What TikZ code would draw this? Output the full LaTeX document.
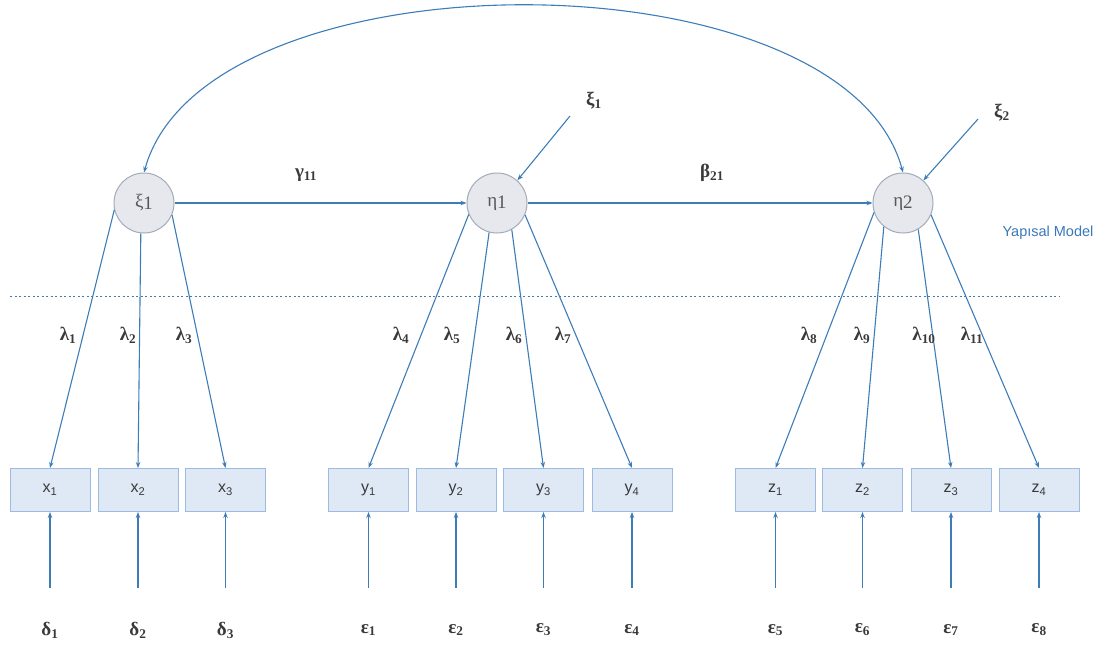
\documentclass[tikz,border=0pt]{standalone}
\usepackage{fontspec}
\setsansfont{Liberation Sans}
\newfontfamily\grk{Liberation Serif}
\usetikzlibrary{arrows.meta}
\definecolor{lineblue}{HTML}{3C7DB8}
\definecolor{boxfill}{HTML}{DFE9F6}
\definecolor{boxdraw}{HTML}{9DBBE0}
\definecolor{circfill}{HTML}{E6E8EE}
\definecolor{circdraw}{HTML}{A3AAB8}
\definecolor{txt}{HTML}{3A3A3A}
\definecolor{modelblue}{HTML}{3A78B8}
\newcommand{\gs}[2]{#1\textsubscript{#2}}
\tikzset{
  lat/.style={circle, draw=circdraw, fill=circfill, line width=1pt, minimum size=60pt, inner sep=0pt, text=txt!85, font=\grk\fontsize{19}{21}\selectfont},
  obs/.style={draw=boxdraw, fill=boxfill, line width=1pt, minimum width=80pt, minimum height=43pt, inner sep=0pt, text=txt, font=\sffamily\fontsize{16}{18}\selectfont},
  arr/.style={draw=lineblue, line width=1.1pt, -{Stealth[length=6pt,width=4.5pt]}},
  lab/.style={text=txt, font=\grk\bfseries\fontsize{19}{21}\selectfont, inner sep=1pt},
}
\begin{document}
\begin{tikzpicture}[x=1pt,y=-1pt]
\useasboundingbox (0,0) rectangle (1107,648);
% latent variables
\node[lat] (xi1) at (144,203) {ξ\raisebox{-2pt}{1}};
\node[lat] (eta1) at (497,203) {η\raisebox{-2pt}{1}};
\node[lat] (eta2) at (903,203) {η\raisebox{-2pt}{2}};
% observed
\node[obs] (x1) at (50,490) {x\textsubscript{1}};
\node[obs] (x2) at (138,490) {x\textsubscript{2}};
\node[obs] (x3) at (225.5,490) {x\textsubscript{3}};
\node[obs] (y1) at (368.5,490) {y\textsubscript{1}};
\node[obs] (y2) at (456,490) {y\textsubscript{2}};
\node[obs] (y3) at (543.5,490) {y\textsubscript{3}};
\node[obs] (y4) at (632,490) {y\textsubscript{4}};
\node[obs] (z1) at (775.5,490) {z\textsubscript{1}};
\node[obs] (z2) at (862.5,490) {z\textsubscript{2}};
\node[obs] (z3) at (951,490) {z\textsubscript{3}};
\node[obs] (z4) at (1039,490) {z\textsubscript{4}};
% structural arrows
\draw[arr] (xi1) -- (eta1);
\draw[arr] (eta1) -- (eta2);
\draw[draw=lineblue, line width=1.1pt, {Stealth[length=6pt,width=4.5pt]}-{Stealth[length=6pt,width=4.5pt]}]
  (xi1.north) .. controls (205,-50) and (843,-50) .. (eta2.north);
\node[lab] (g11) at (306,175) {\gs{γ}{11}};
\node[lab] (b21) at (712,173) {\gs{β}{21}};
% disturbances
\node[lab] (zeta1) at (594,101) {\gs{ξ}{1}};
\node[lab] (zeta2) at (1002,113) {\gs{ξ}{2}};
\coordinate (zs1) at (570,116);
\coordinate (zs2) at (978,119);
\draw[arr] (zs1) -- (eta1.48);
\draw[arr] (zs2) -- (eta2.48);
% structural model label and divider
\node[text=modelblue, font=\sffamily\fontsize{14.5}{16}\selectfont] (ym) at (1048,233) {Yapısal Model};
\coordinate (dl) at (10,296);
\coordinate (dr) at (1060,296);
\draw[lineblue, line width=1pt, dash pattern=on 2pt off 2.5pt] (dl) -- (dr);
% loadings
\draw[arr] (xi1.193) -- (x1.north);
\draw[arr] (xi1.264) -- (x2.north);
\draw[arr] (xi1.337) -- (x3.north);
\draw[arr] (eta1.202) -- (y1.north);
\draw[arr] (eta1.255) -- (y2.north);
\draw[arr] (eta1.299) -- (y3.north);
\draw[arr] (eta1.337) -- (y4.north);
\draw[arr] (eta2.198) -- (z1.north);
\draw[arr] (eta2.231) -- (z2.north);
\draw[arr] (eta2.300) -- (z3.north);
\draw[arr] (eta2.337) -- (z4.north);
\node[lab] (l1) at (68,335) {\gs{λ}{1}};
\node[lab] (l2) at (128,335) {\gs{λ}{2}};
\node[lab] (l3) at (184,335) {\gs{λ}{3}};
\node[lab] (l4) at (401,335) {\gs{λ}{4}};
\node[lab] (l5) at (452,335) {\gs{λ}{5}};
\node[lab] (l6) at (514,335) {\gs{λ}{6}};
\node[lab] (l7) at (563,335) {\gs{λ}{7}};
\node[lab] (l8) at (809,335) {\gs{λ}{8}};
\node[lab] (l9) at (862,335) {\gs{λ}{9}};
\node[lab] (l10) at (924,335) {\gs{λ}{10}};
\node[lab] (l11) at (972,335) {\gs{λ}{11}};
% measurement errors
\foreach \n/\x/\t/\s in {d1/50/δ/1, d2/138/δ/2, d3/225.5/δ/3,
  e1/368.5/ε/1, e2/456/ε/2, e3/543.5/ε/3, e4/632/ε/4,
  e5/775.5/ε/5, e6/862.5/ε/6, e7/951/ε/7, e8/1039/ε/8}{
  \coordinate (\n s) at (\x,588);
  \node[lab] (\n) at (\x,630) {\gs{\t}{\s}};
}
\foreach \n/\b in {d1/x1, d2/x2, d3/x3, e1/y1, e2/y2, e3/y3, e4/y4, e5/z1, e6/z2, e7/z3, e8/z4}{
  \draw[arr] (\n s) -- (\b.south);
}
\end{tikzpicture}
\end{document}
